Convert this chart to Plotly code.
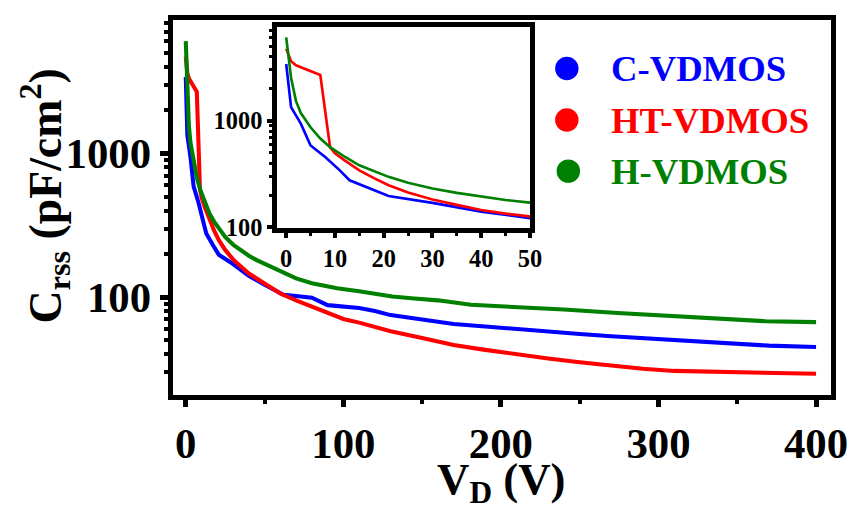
import plotly.graph_objects as go

# Design grid (px) and the pixel size the figure is written at
BASE_W, BASE_H = 851, 506
W, H = 867, 515
K = W / BASE_W  # pixel scale applied to fonts, strokes and tick lengths

# Reverse transfer capacitance Crss (pF/cm^2) versus drain voltage VD (V)
names = ["C-VDMOS", "HT-VDMOS", "H-VDMOS"]
colors = ["#0000FF", "#FF0000", "#008000"]

v_c = [0, 1, 3, 5, 8, 11, 13, 17, 21, 30, 40, 50, 62, 70, 80, 90, 100, 110,
       120, 130, 150, 170, 190, 210, 230, 250, 270, 300, 340, 370, 400]
crss_c = [3400, 1340, 940, 586, 457, 343, 277, 232, 197, 170, 141, 122, 104,
          102, 99, 88, 86, 84, 80, 75, 70, 65, 62.5, 60, 57, 55.5, 53.5, 51,
          47.5, 46, 45]

v_ht = [0, 1, 2, 7, 9, 10, 12, 15, 18, 21, 25, 30, 35, 40, 45, 50, 60, 70, 80,
        90, 100, 110, 120, 130, 150, 170, 190, 210, 230, 250, 270, 290, 310,
        340, 370, 400]
crss_ht = [4710, 3610, 3310, 2680, 566, 495, 425, 343, 290, 249, 213, 183,
           163, 146, 135, 125, 106, 95, 86.5, 78, 70.5, 66.5, 62, 58, 52, 46.5,
           43, 40, 37.5, 35.3, 33.4, 31.8, 30.7, 30.1, 29.8, 29.3]

v_h = [0, 1, 2, 3, 5, 7, 9, 12, 15, 18, 21, 25, 30, 35, 40, 45, 50, 62, 70, 80,
       96, 110, 120, 131, 145, 160, 181, 212, 240, 274, 300, 339, 368, 400]
crss_h = [6030, 2530, 1535, 1180, 869, 680, 566, 460, 382, 335, 298, 262, 232,
          211, 194, 181, 171, 147, 135, 125, 115.5, 110, 105, 101, 98, 95, 88.5,
          85.5, 82, 77.5, 75, 70.5, 68, 67]

series = [(v_c, crss_c), (v_ht, crss_ht), (v_h, crss_h)]

main_xticks = [0, 100, 200, 300, 400]
main_yticks = [100, 1000]
inset_xticks = [0, 10, 20, 30, 40, 50]
inset_yticks = [100, 1000]

FONT = "Liberation Serif, Times New Roman, Times, serif"


def px_x(p):
    return p / BASE_W


def px_y(p):
    return 1 - p / BASE_H


def s(v):
    return v * K


fig = go.Figure()

for (vx, cy), name, col in zip(series, names, colors):
    fig.add_trace(go.Scatter(x=vx, y=cy, mode="lines", name=name,
                             line=dict(color=col, width=s(4)),
                             xaxis="x", yaxis="y", showlegend=False))
for (vx, cy), name, col in zip(series, names, colors):
    fig.add_trace(go.Scatter(x=vx, y=cy, mode="lines", name=name,
                             line=dict(color=col, width=s(2.6)),
                             xaxis="x2", yaxis="y2", showlegend=False))

tick_font_main = dict(family=FONT, size=s(42), color="black", weight="bold")
tick_font_inset = dict(family=FONT, size=s(24), color="black", weight="bold")


def frame_axis(**kw):
    base = dict(showline=True, linecolor="black", mirror=True,
                showgrid=False, zeroline=False, ticks="outside",
                tickcolor="black")
    base.update(kw)
    return base


fig.update_layout(
    width=W, height=H,
    margin=dict(l=0, r=0, t=0, b=0),
    paper_bgcolor="white", plot_bgcolor="white",
    xaxis=frame_axis(domain=[px_x(173), px_x(832)], range=[-8.24, 409.5],
                     tickvals=main_xticks, ticklen=s(7), tickwidth=s(5),
                     minor=dict(ticks="outside", dtick=50, ticklen=s(4),
                                tickwidth=s(4), tickcolor="black"),
                     linewidth=s(5), tickfont=tick_font_main, anchor="y"),
    yaxis=frame_axis(type="log", domain=[px_y(398), px_y(20)],
                     range=[1.3207, 3.928], tickvals=main_yticks,
                     ticktext=[str(t) for t in main_yticks],
                     ticklen=s(8), tickwidth=s(5),
                     minor=dict(ticks="outside", dtick="D1", ticklen=s(4),
                                tickwidth=s(4), tickcolor="black"),
                     linewidth=s(5), tickfont=tick_font_main, anchor="x"),
    xaxis2=frame_axis(domain=[px_x(277.5), px_x(530.8)],
                      range=[-1.85, 50.05], tickvals=inset_xticks,
                      ticklen=s(5), tickwidth=s(3.5),
                      minor=dict(ticks="outside", dtick=5, ticklen=s(3),
                                 tickwidth=s(3), tickcolor="black"),
                      linewidth=s(4.5), tickfont=tick_font_inset,
                      anchor="y2"),
    yaxis2=frame_axis(type="log", domain=[px_y(229.8), px_y(27)],
                      range=[1.9954, 3.88], tickvals=inset_yticks,
                      ticktext=[str(t) for t in inset_yticks],
                      ticklen=s(5), tickwidth=s(3.5),
                      minor=dict(ticks="outside", dtick="D1", ticklen=s(3),
                                 tickwidth=s(3), tickcolor="black"),
                      linewidth=s(4.5), tickfont=tick_font_inset,
                      anchor="x2"),
)

# Axis titles
fig.add_annotation(text="C<sub>rss</sub> (pF/cm<sup>2</sup>)", textangle=-90,
                   xref="paper", yref="paper", x=px_x(45), y=px_y(197),
                   xanchor="center", yanchor="middle", showarrow=False,
                   font=dict(family=FONT, size=s(45), color="black",
                             weight="bold"))
fig.add_annotation(text="V<sub>D</sub> (V)",
                   xref="paper", yref="paper", x=px_x(502), y=px_y(456),
                   xanchor="center", yanchor="top", showarrow=False,
                   font=dict(family=FONT, size=s(44), color="black",
                             weight="bold"))

# Legend: filled dots with coloured labels
legend_y = [69, 121, 172.5]
legend_dot_x = [567.5, 567.5, 569]
r = s(11.5)
for name, col, ly, dx in zip(names, colors, legend_y, legend_dot_x):
    fig.add_shape(type="circle", xref="paper", yref="paper",
                  xsizemode="pixel", ysizemode="pixel",
                  xanchor=px_x(dx), yanchor=px_y(ly),
                  x0=-r, x1=r, y0=-r, y1=r,
                  fillcolor=col, line=dict(width=0))
    fig.add_annotation(text=name, xref="paper", yref="paper",
                       x=px_x(610), y=px_y(ly), xanchor="left",
                       yanchor="middle", showarrow=False,
                       font=dict(family=FONT, size=s(36), color=col,
                                 weight="bold"))

fig.write_html("out.html")
